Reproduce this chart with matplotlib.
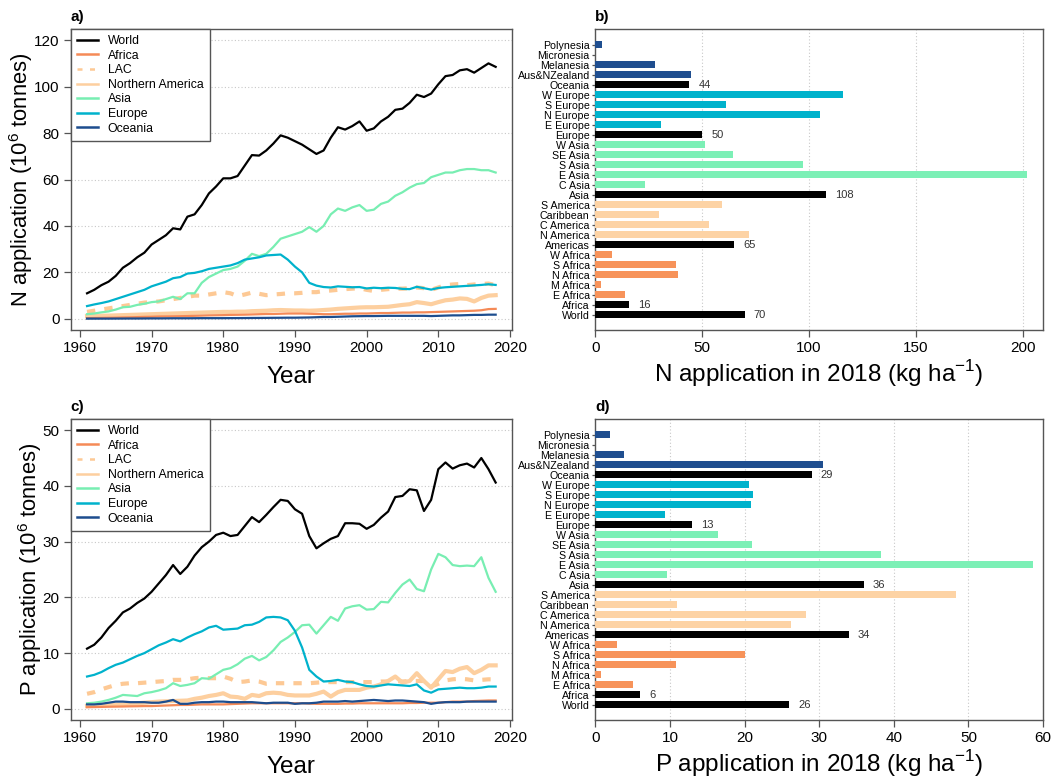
import numpy as np
import matplotlib
matplotlib.use("Agg")
import matplotlib.pyplot as plt
from matplotlib.lines import Line2D

plt.rcParams['font.family'] = ['Liberation Sans', 'DejaVu Sans']
plt.rcParams['mathtext.fontset'] = 'custom'
plt.rcParams['mathtext.rm'] = 'Liberation Sans'

years = np.arange(1961, 2019)

# ---------------- N application (10^6 tonnes) ----------------
n_world = [11, 12.5, 14.5, 16, 18.5, 22, 24, 26.5, 28.5, 32, 34, 36, 39, 38.5, 44, 45, 49, 54, 57, 60.5,
           60.5, 61.5, 66, 70.5, 70.3, 72.5, 75.5, 79, 78, 76.5, 75, 73, 71, 72.5, 78, 82.5, 81.5, 83, 85, 81,
           82, 85, 87, 90, 90.5, 93, 96.5, 95.5, 97, 101, 104.5, 105, 107, 107.5, 106, 108, 110, 108.5]
n_africa = [0.3, 0.35, 0.4, 0.45, 0.5, 0.6, 0.65, 0.75, 0.85, 0.9, 1.0, 1.05, 1.1, 1.15, 1.2, 1.3, 1.4, 1.5, 1.55, 1.6,
            1.7, 1.75, 1.8, 1.9, 2.0, 2.1, 2.1, 2.2, 2.3, 2.3, 2.3, 2.2, 2.1, 2.0, 2.0, 2.1, 2.2, 2.2, 2.3, 2.3,
            2.4, 2.5, 2.5, 2.6, 2.7, 2.7, 2.8, 2.8, 2.9, 3.0, 3.1, 3.2, 3.3, 3.4, 3.5, 3.7, 4.2, 4.3]
n_lac = [3, 3.5, 4, 4.5, 5, 5.5, 6, 6.5, 7, 7.2, 7.5, 8, 8.5, 9, 9.5, 10, 10, 10.5, 11, 11.5,
         11, 9.8, 10.5, 11.3, 10.8, 10.2, 10.5, 10.7, 11, 11, 11.2, 11.5, 11.5, 12, 12.2, 12.5, 12.8, 13, 13.2, 12.5,
         12, 12.5, 12.8, 13, 13, 13.2, 13.5, 13.2, 12.5, 13.5, 14.5, 14.8, 15, 14.5, 14.8, 15, 15.2, 14.5]
n_nam = [1.2, 1.3, 1.35, 1.4, 1.5, 1.6, 1.7, 1.8, 1.9, 2.0, 2.1, 2.2, 2.3, 2.4, 2.5, 2.6, 2.7, 2.8, 2.9, 3.0,
         3.0, 3.1, 3.1, 3.3, 3.4, 3.5, 3.7, 3.8, 3.7, 3.6, 3.6, 3.5, 3.6, 3.8, 4.0, 4.3, 4.5, 4.7, 4.9, 5.0,
         5.0, 5.1, 5.2, 5.6, 6.0, 6.3, 7.2, 6.8, 6.3, 7.2, 8.0, 8.3, 8.8, 8.6, 7.5, 9.0, 10.0, 10.2]
n_asia = [2, 2.3, 2.8, 3.2, 4, 5, 5.2, 6, 6.5, 7.2, 7.5, 8.5, 9.5, 8.5, 11, 11, 15.5, 18, 19.5, 21,
          21.5, 22.5, 25, 28, 27, 28, 31, 34.5, 35.5, 36.5, 37.5, 39.5, 37.5, 40, 45, 47.5, 46.5, 48, 49, 46.5,
          47, 49.5, 50.5, 53, 54.5, 56.5, 58, 58.5, 61, 62, 63, 63, 64, 64.5, 64.5, 64, 64, 63]
n_europe = [5.5, 6.2, 6.8, 7.5, 8.5, 9.5, 10.5, 11.5, 12.5, 14, 15, 16, 17.5, 18, 19.5, 19.8, 20.5, 21.5, 22, 22.5,
            23, 24, 25.5, 26, 26.5, 27.3, 27.5, 27.7, 25.5, 22.5, 20, 15.5, 14.3, 13.7, 13.5, 14, 13.8, 13.6, 13.7, 13.1,
            13.4, 13.2, 13.4, 13.3, 12.9, 12.8, 13.8, 13.2, 12.6, 13.3, 13.6, 13.8, 14, 14.2, 14.4, 14.6, 14.9, 14.6]
n_oceania = [0.1, 0.1, 0.1, 0.1, 0.12, 0.13, 0.15, 0.15, 0.17, 0.2, 0.2, 0.22, 0.25, 0.25, 0.25, 0.27, 0.3, 0.3, 0.3, 0.3,
             0.32, 0.33, 0.35, 0.38, 0.4, 0.42, 0.45, 0.47, 0.5, 0.5, 0.55, 0.6, 0.7, 0.8, 0.8, 0.9, 1.0, 1.1, 1.15, 1.2,
             1.2, 1.25, 1.3, 1.3, 1.3, 1.3, 1.3, 1.3, 1.2, 1.3, 1.4, 1.5, 1.5, 1.6, 1.7, 1.7, 1.8, 1.8]

# ---------------- P application (10^6 tonnes) ----------------
p_world = [10.8, 11.5, 12.8, 14.5, 15.8, 17.3, 18, 19, 19.8, 21, 22.5, 24, 25.8, 24.2, 25.5, 27.5, 29, 30, 31.2, 31.6,
           31, 31.2, 32.8, 34.4, 33.5, 34.8, 36.2, 37.5, 37.3, 35.8, 35, 31, 28.8, 29.7, 30.5, 31, 33.3, 33.3, 33.2, 32.3,
           33, 34.3, 35.4, 38, 38.2, 39.4, 39.2, 35.5, 37.5, 43, 44.2, 43.1, 43.7, 44, 43.3, 45, 43, 40.6]
p_africa = [0.3, 0.32, 0.35, 0.38, 0.4, 0.42, 0.45, 0.47, 0.5, 0.5, 0.55, 0.6, 0.65, 0.7, 0.7, 0.75, 0.8, 0.8, 0.8, 0.8,
            0.85, 0.9, 0.95, 1.0, 1.0, 1.0, 1.0, 1.0, 1.0, 1.0, 1.0, 0.95, 0.9, 0.9, 0.9, 0.9, 0.95, 0.95, 1.0, 1.0,
            1.0, 1.0, 1.0, 1.0, 1.0, 1.05, 1.05, 1.1, 1.1, 1.1, 1.2, 1.3, 1.3, 1.3, 1.4, 1.45, 1.5, 1.5]
p_lac = [2.7, 3, 3.5, 3.9, 4.3, 4.5, 4.6, 4.6, 4.7, 4.8, 4.9, 5, 5.2, 5.2, 5.3, 5.5, 5.6, 5.5, 5.5, 5.8,
         5.4, 4.8, 4.9, 5.1, 4.9, 4.5, 4.6, 4.6, 4.6, 4.6, 4.6, 4.6, 4.7, 4.8, 4.8, 4.8, 4.8, 4.8, 4.8, 4.8,
         4.8, 4.9, 4.9, 5, 4.9, 5, 5, 5, 4, 4.5, 5.1, 5.3, 5.4, 5.3, 5.1, 5.2, 5.3, 5.3]
p_nam = [0.5, 0.55, 0.6, 0.7, 0.75, 0.8, 0.9, 1.0, 1.1, 1.2, 1.3, 1.35, 1.4, 1.45, 1.5, 1.8, 2.0, 2.3, 2.5, 2.8,
         2.2, 2.1, 1.8, 2.5, 2.3, 2.8, 2.9, 2.8, 2.5, 2.4, 2.4, 2.4, 2.7, 3.1, 2.2, 3.0, 3.4, 3.4, 3.4, 3.8,
         4.0, 4.4, 5.0, 5.8, 4.7, 5.0, 6.4, 5.0, 3.8, 5.3, 6.8, 6.6, 7.2, 7.5, 6.4, 7.0, 7.8, 7.8]
p_asia = [1, 1.1, 1.3, 1.6, 2, 2.5, 2.4, 2.3, 2.8, 3, 3.3, 3.7, 4.6, 4.1, 4.3, 4.6, 5.5, 5.4, 6.2, 7,
          7.3, 8, 9, 9.5, 8.7, 9.3, 10.5, 12, 12.8, 13.8, 15, 15.1, 13.5, 15, 16.5, 15.8, 18, 18.4, 18.6, 17.8,
          17.9, 19.2, 19.1, 20.8, 22.3, 23.2, 21.5, 21.1, 25, 27.8, 27.2, 25.8, 25.6, 25.7, 25.6, 27.2, 23.5, 21]
p_europe = [5.8, 6.1, 6.6, 7.3, 7.9, 8.3, 8.9, 9.5, 10, 10.7, 11.4, 11.9, 12.5, 12.1, 12.8, 13.4, 13.9, 14.6, 14.9, 14.2,
            14.3, 14.4, 15, 15.1, 15.6, 16.4, 16.5, 16.4, 15.9, 14, 11, 7, 5.8, 4.9, 5, 5.2, 4.9, 4.8, 4.4, 4.1,
            4, 4.2, 4.4, 4.3, 4.2, 4.1, 4.4, 3.3, 2.9, 3.5, 3.6, 3.7, 3.8, 3.7, 3.7, 3.8, 4, 4]
p_oceania = [0.8, 0.8, 0.9, 1.1, 1.3, 1.3, 1.2, 1.2, 1.2, 1.1, 1.1, 1.3, 1.6, 0.9, 0.9, 1.1, 1.2, 1.2, 1.3, 1.3,
             1.2, 1.2, 1.2, 1.2, 1.1, 1.0, 1.1, 1.1, 1.1, 0.9, 1.0, 1.0, 1.1, 1.3, 1.3, 1.3, 1.4, 1.3, 1.4, 1.5,
             1.6, 1.5, 1.4, 1.5, 1.5, 1.4, 1.3, 1.2, 0.9, 1.1, 1.2, 1.2, 1.2, 1.3, 1.3, 1.3, 1.3, 1.3]

# ---------------- 2018 rates by region (kg/ha) ----------------
bar_regions = ["World", "Africa", "E Africa", "M Africa", "N Africa", "S Africa", "W Africa",
               "Americas", "N America", "C America", "Caribbean", "S America",
               "Asia", "C Asia", "E Asia", "S Asia", "SE Asia", "W Asia",
               "Europe", "E Europe", "N Europe", "S Europe", "W Europe",
               "Oceania", "Aus&NZealand", "Melanesia", "Micronesia", "Polynesia"]
bar_groups = ["total", "total", "africa", "africa", "africa", "africa", "africa",
              "total", "america", "america", "america", "america",
              "total", "asia", "asia", "asia", "asia", "asia",
              "total", "europe", "europe", "europe", "europe",
              "total", "oceania", "oceania", "oceania", "oceania"]
n_rate = [70, 16, 13.7, 2.7, 38.5, 37.8, 7.8,
          65, 72, 53.2, 30, 59.1,
          108, 23.2, 202, 97, 64.4, 51.3,
          50, 30.6, 105, 61.2, 116,
          44, 44.9, 27.8, 0, 3.3]
p_rate = [26, 6, 5.1, 0.7, 10.8, 20, 2.9,
          34, 26.2, 28.2, 11, 48.3,
          36, 9.6, 58.6, 38.3, 21, 16.4,
          13, 9.4, 20.9, 21.2, 20.6,
          29, 30.5, 3.8, 0, 2.0]

line_names = ["World", "Africa", "LAC", "Northern America", "Asia", "Europe", "Oceania"]

col_world = "black"
col_africa = "#f58a57"
col_lac = "#fdc995"
col_nam = "#fdcf9f"
col_asia = "#78eeb2"
col_europe = "#00b2cc"
col_oceania = "#1d4d8e"

group_colors = {"total": "black", "africa": "#f7935a", "america": "#fdd3a5",
                "asia": "#7cf0b6", "europe": "#00b2cc", "oceania": "#1f4e8f"}

spine_col = "#555555"

fig = plt.figure(figsize=(10.53, 7.80), dpi=100)

W, H = 1053.0, 780.0
def ax_rect(l, r, t, b):
    return [l / W, 1 - b / H, (r - l) / W, (b - t) / H]

ax_a = fig.add_axes(ax_rect(70.7, 512, 29, 330))
ax_b = fig.add_axes(ax_rect(595.3, 1043, 29, 330))
ax_c = fig.add_axes(ax_rect(70.7, 512, 419, 720))
ax_d = fig.add_axes(ax_rect(595.3, 1043, 419, 720))


def style_axes(ax):
    for s in ax.spines.values():
        s.set_color(spine_col)
        s.set_linewidth(1.0)
    ax.tick_params(axis='both', which='both', direction='out', length=5, width=0.9,
                   color=spine_col, labelsize=11, labelcolor='black', pad=3)


def line_panel(ax, series, ylim, yticks, ylabel, letter):
    world, africa, lac, nam, asia, europe, oceania = series
    ax.set_xlim(1958.72, 2020.28)
    ax.set_ylim(*ylim)
    ax.set_yticks(yticks)
    ax.set_xticks(np.arange(1960, 2021, 10))
    for yt in yticks:
        ax.axhline(yt, color='#c8c8c8', lw=0.8, ls=(0, (1, 2)), zorder=0)
    ax.plot(years, world, color=col_world, lw=1.6, zorder=5)
    ax.plot(years, africa, color=col_africa, lw=1.6, zorder=3)
    ax.plot(years, lac, color=col_lac, lw=3.0, ls=(0, (2.0, 2.2)), zorder=2)
    ax.plot(years, nam, color=col_nam, lw=3.0, zorder=2)
    ax.plot(years, asia, color=col_asia, lw=1.6, zorder=3)
    ax.plot(years, europe, color=col_europe, lw=1.6, zorder=4)
    ax.plot(years, oceania, color=col_oceania, lw=1.6, zorder=4)
    style_axes(ax)
    ax.set_xlabel("Year", fontsize=17.5, labelpad=8)
    ax.set_ylabel(ylabel, fontsize=15.8, labelpad=-1)
    handles = [
        Line2D([], [], color=col_world, lw=1.8),
        Line2D([], [], color=col_africa, lw=1.8),
        Line2D([], [], color=col_lac, lw=1.8, ls=(0, (2.0, 3.0))),
        Line2D([], [], color=col_nam, lw=1.8),
        Line2D([], [], color=col_asia, lw=1.8),
        Line2D([], [], color=col_europe, lw=1.8),
        Line2D([], [], color=col_oceania, lw=1.8),
    ]
    leg = ax.legend(handles, line_names, loc='upper left', bbox_to_anchor=(0.0, 1.0),
                    fontsize=8.8, frameon=True, fancybox=False, borderaxespad=0.0,
                    handlelength=1.72, handletextpad=0.82, labelspacing=0.21,
                    borderpad=0.5)
    leg.get_frame().set_edgecolor(spine_col)
    leg.get_frame().set_linewidth(1.0)
    leg.get_frame().set_facecolor('white')
    leg.get_frame().set_alpha(1.0)
    leg.set_zorder(10)
    ax.text(0.0, 1.04, letter, transform=ax.transAxes, fontsize=11,
            fontweight='bold', ha='left', va='center')


def bar_panel(ax, values, xlim, xticks, xlabel, letter):
    ypos = np.arange(len(bar_regions))
    colors = [group_colors[g] for g in bar_groups]
    ax.barh(ypos, values, height=0.7, color=colors, zorder=3)
    ax.set_ylim(-1.55, len(bar_regions) - 1 + 1.6)
    ax.set_xlim(*xlim)
    ax.set_xticks(xticks)
    ax.set_yticks(ypos)
    ax.set_yticklabels(bar_regions)
    for xt in xticks[1:]:
        ax.axvline(xt, color='#c8c8c8', lw=0.8, ls=(0, (1, 2)), zorder=0)
    for y, v, g in zip(ypos, values, bar_groups):
        if g == "total":
            ax.text(v + (xlim[1] - xlim[0]) * 0.02, y, f"{v:.0f}", fontsize=8,
                    color='#333333', va='center', ha='left')
    style_axes(ax)
    ax.tick_params(axis='y', length=2, pad=2, labelsize=7.7)
    ax.set_xlabel(xlabel, fontsize=17.5, labelpad=2)
    ax.text(0.0, 1.04, letter, transform=ax.transAxes, fontsize=11,
            fontweight='bold', ha='left', va='center')


line_panel(ax_a, [n_world, n_africa, n_lac, n_nam, n_asia, n_europe, n_oceania],
           (-4.8, 124.8), np.arange(0, 121, 20), r"N application (10$^{6}$ tonnes)", "a)")
line_panel(ax_c, [p_world, p_africa, p_lac, p_nam, p_asia, p_europe, p_oceania],
           (-2.0, 52.0), np.arange(0, 51, 10), r"P application (10$^{6}$ tonnes)", "c)")
bar_panel(ax_b, n_rate, (0, 209.5), [0, 50, 100, 150, 200],
          r"N application in 2018 (kg ha$^{-1}$)", "b)")
bar_panel(ax_d, p_rate, (0, 60), [0, 10, 20, 30, 40, 50, 60],
          r"P application in 2018 (kg ha$^{-1}$)", "d)")

fig.savefig("out.png", dpi=100, facecolor='white')
